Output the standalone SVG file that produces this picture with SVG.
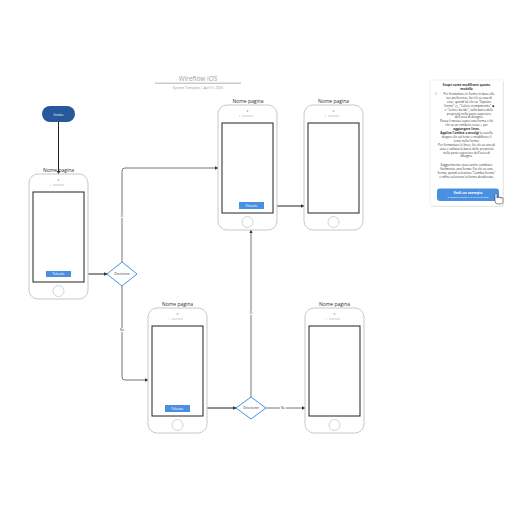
<svg xmlns="http://www.w3.org/2000/svg" width="516" height="516" viewBox="0 0 516 516">
<style>
  text { font-family: "Open Sans", "Liberation Sans", sans-serif; }
  .phone { fill: #ffffff; stroke: #c8c8c8; stroke-width: 1; }
  .screen { fill: #ffffff; stroke: #222222; stroke-width: 1; }
  .home { fill: none; stroke: #c8c8c8; stroke-width: 0.8; }
  .spk { stroke: #bbbbbb; stroke-width: 0.8; }
  .dot { fill: #bbbbbb; }
  .lbl { font-size: 5px; fill: #333333; text-anchor: middle; }
  .btn { fill: #4a90e2; }
  .btntxt { font-size: 3px; fill: #ffffff; text-anchor: middle; }
  .dia { fill: #ffffff; stroke: #4a90e2; stroke-width: 1; }
  .diatxt { font-size: 3.4px; fill: #333333; text-anchor: middle; }
  .c1 { fill: none; stroke: #222222; stroke-width: 1; marker-end: url(#ah); }
  .c2 { fill: none; stroke: #777777; stroke-width: 1; marker-end: url(#ah); }
  .clab { font-size: 3px; fill: #333333; text-anchor: middle; }
  .note { font-size: 3.1px; fill: #333333; text-anchor: middle; }
  .noteb { font-size: 3.1px; fill: #333333; text-anchor: middle; font-weight: bold; }
</style>
<defs>
  <marker id="ah" viewBox="0 0 6 6" refX="5.5" refY="3" markerWidth="3.5" markerHeight="3.5" orient="auto" markerUnits="userSpaceOnUse">
    <path d="M0,0 L6,3 L0,6 Z" fill="#333333"/>
  </marker>
  <g id="phoneShape">
    <rect class="phone" x="0" y="0" width="59" height="125" rx="9" ry="9"/>
    <circle class="dot" cx="29.5" cy="6" r="0.9"/>
    <line class="spk" x1="24" y1="11" x2="35" y2="11"/>
    <circle class="dot" cx="21.5" cy="11" r="0.5"/>
    <rect class="screen" x="4" y="18" width="51" height="90"/>
    <circle class="home" cx="29.5" cy="117" r="5.5"/>
  </g>
</defs>

<rect width="516" height="516" fill="#ffffff"/>

<!-- Title -->
<g id="title">
  <text x="198" y="81" font-size="6.5" fill="#9a9fa8" text-anchor="middle">Wireflow iOS</text>
  <line x1="155" y1="83.2" x2="241" y2="83.2" stroke="#8a8f98" stroke-width="0.7"/>
  <text x="198" y="88.5" font-size="3.4" fill="#9a9a9a" text-anchor="middle">System Template  |  April 5, 2025</text>
</g>

<!-- Connectors -->
<g id="connectors">
  <path class="c1" d="M58.5,122 L58.5,174"/>
  <path class="c1" d="M71,274 L107,274"/>
  <path class="c2" d="M122,262 L122,171 Q122,168 125,168 L218,168"/>
  <path class="c2" d="M122,286 L122,377 Q122,380 125,380 L148,380"/>
  <path class="c1" d="M264,206 L304,206"/>
  <path class="c1" d="M190,408 L236,408"/>
  <path class="c2" d="M251,397 L251,230"/>
  <path class="c2" d="M266,408 L305,408"/>
  <rect x="119.5" y="214" width="5" height="4" fill="#ffffff"/>
  <text class="clab" x="122" y="217">Sì</text>
  <rect x="119" y="328" width="6" height="4" fill="#ffffff"/>
  <text class="clab" x="122" y="331">No</text>
  <rect x="248.5" y="311" width="5" height="4" fill="#ffffff"/>
  <text class="clab" x="251" y="314">Sì</text>
  <rect x="280" y="406" width="6" height="4" fill="#ffffff"/>
  <text class="clab" x="283" y="409">No</text>
</g>

<!-- Start -->
<g id="start">
  <rect x="42" y="106" width="33" height="16" rx="8" ry="8" fill="#27589b"/>
  <text x="58.5" y="115.5" font-size="4" fill="#ffffff" text-anchor="middle">Inizio</text>
</g>

<!-- Phone 1 -->
<g id="phone1">
  <text class="lbl" x="58.5" y="171.5">Nome pagina</text>
  <use href="#phoneShape" x="29" y="174"/>
  <rect class="btn" x="46" y="271" width="25" height="6"/>
  <text class="btntxt" x="58.5" y="275">Pulsante</text>
</g>

<!-- Decision 1 -->
<g id="decision1">
  <path class="dia" d="M122,262 L137,274 L122,286 L107,274 Z"/>
  <text class="diatxt" x="122" y="275.2">Decisione</text>
</g>

<!-- Phone 2 -->
<g id="phone2">
  <text class="lbl" x="248" y="102.5">Nome pagina</text>
  <use href="#phoneShape" x="218" y="105"/>
  <rect class="btn" x="239" y="202" width="25" height="7"/>
  <text class="btntxt" x="251.5" y="206.5">Pulsante</text>
</g>

<!-- Phone 3 -->
<g id="phone3">
  <text class="lbl" x="333.5" y="102.5">Nome pagina</text>
  <use href="#phoneShape" x="304" y="105"/>
</g>

<!-- Phone 4 -->
<g id="phone4">
  <text class="lbl" x="177.5" y="305.5">Nome pagina</text>
  <use href="#phoneShape" x="148" y="308"/>
  <rect class="btn" x="165" y="405" width="25" height="7"/>
  <text class="btntxt" x="177.5" y="409.5">Pulsante</text>
</g>

<!-- Decision 2 -->
<g id="decision2">
  <path class="dia" d="M251,397 L266,408 L251,419 L236,408 Z"/>
  <text class="diatxt" x="251" y="409.2">Decisione</text>
</g>

<!-- Phone 5 -->
<g id="phone5">
  <text class="lbl" x="334.5" y="305.5">Nome pagina</text>
  <use href="#phoneShape" x="305" y="308"/>
</g>

<!-- Note panel -->
<g id="note">
  <rect x="431" y="81" width="73" height="126" rx="1.5" fill="#000000" opacity="0.08"/>
  <rect x="430" y="80" width="73" height="126" rx="1.5" fill="#ffffff" stroke="#e0e0e0" stroke-width="0.5"/>
  <text class="noteb" x="466.5" y="85.5">Scopri come modificare questo</text>
  <text class="noteb" x="466.5" y="89.5">modello</text>
  <text class="note" x="436" y="95" text-anchor="start">1.</text>
  <text class="note" x="469" y="95">Per formattare le forme in base alle</text>
  <text class="note" x="469" y="98.9">tue preferenze, fai clic su una di</text>
  <text class="note" x="469" y="102.8">esse, quindi fai clic su "Opzioni</text>
  <text class="note" x="469" y="106.7">forma" ▢, "Colore riempimento" ◆</text>
  <text class="note" x="469" y="110.6">e "Colore bordo", sulla barra delle</text>
  <text class="note" x="469" y="114.5">proprietà nella parte superiore</text>
  <text class="note" x="469" y="118.4">dell'area di disegno.</text>
  <text class="note" x="466.5" y="122.3">Passa il mouse sopra una forma e fai</text>
  <text class="note" x="466.5" y="126.2">clic su un simbolo rosso <tspan fill="#e33">+</tspan> per</text>
  <text class="noteb" x="466.5" y="130.1">aggiungere linee.</text>
  <text class="note" x="466.5" y="134"><tspan font-weight="bold">Applica l'ombra o avvolgi</tspan> la casella</text>
  <text class="note" x="466.5" y="137.9">doppio clic sul testo e modificare il</text>
  <text class="note" x="466.5" y="141.8">testo nella forma.</text>
  <text class="note" x="466.5" y="145.7">Per formattare le linee, fai clic su una di</text>
  <text class="note" x="466.5" y="149.6">esse e utilizza la barra delle proprietà</text>
  <text class="note" x="466.5" y="153.5">nella parte superiore dell'area di</text>
  <text class="note" x="466.5" y="157.4">disegno.</text>
  <text class="note" x="466.5" y="166">Suggerimento: puoi anche cambiare</text>
  <text class="note" x="466.5" y="169.9">facilmente una forma. Fai clic su una</text>
  <text class="note" x="466.5" y="173.8">forma, quindi seleziona "Cambia forma"</text>
  <text class="note" x="466.5" y="177.7">e infine seleziona la forma desiderata.</text>
  <rect x="437" y="188.5" width="62" height="12.5" rx="3" fill="#4a90e2"/>
  <text x="468" y="194" font-size="3.5" font-weight="bold" fill="#ffffff" text-anchor="middle">Vedi un esempio</text>
  <text x="468" y="198.3" font-size="2.4" fill="#ffffff" text-anchor="middle">(Trascina la mano e fai clic su questa)</text>
  <path d="M495,194.5 L495,201 Q495,204 498,204 L501,204 Q503,204 503,201.5 L503,198.5 Q503,197.5 502,197.5 Q501,197.5 501,198.5 L501,198 Q501,197 500,197 Q499,197 499,198 Q499,197 498,197 Q497,197 497,198 L497,194.5 Q497,193.5 496,193.5 Q495,193.5 495,194.5 Z" fill="#ffffff" stroke="#222222" stroke-width="0.5"/>
</g>
</svg>
